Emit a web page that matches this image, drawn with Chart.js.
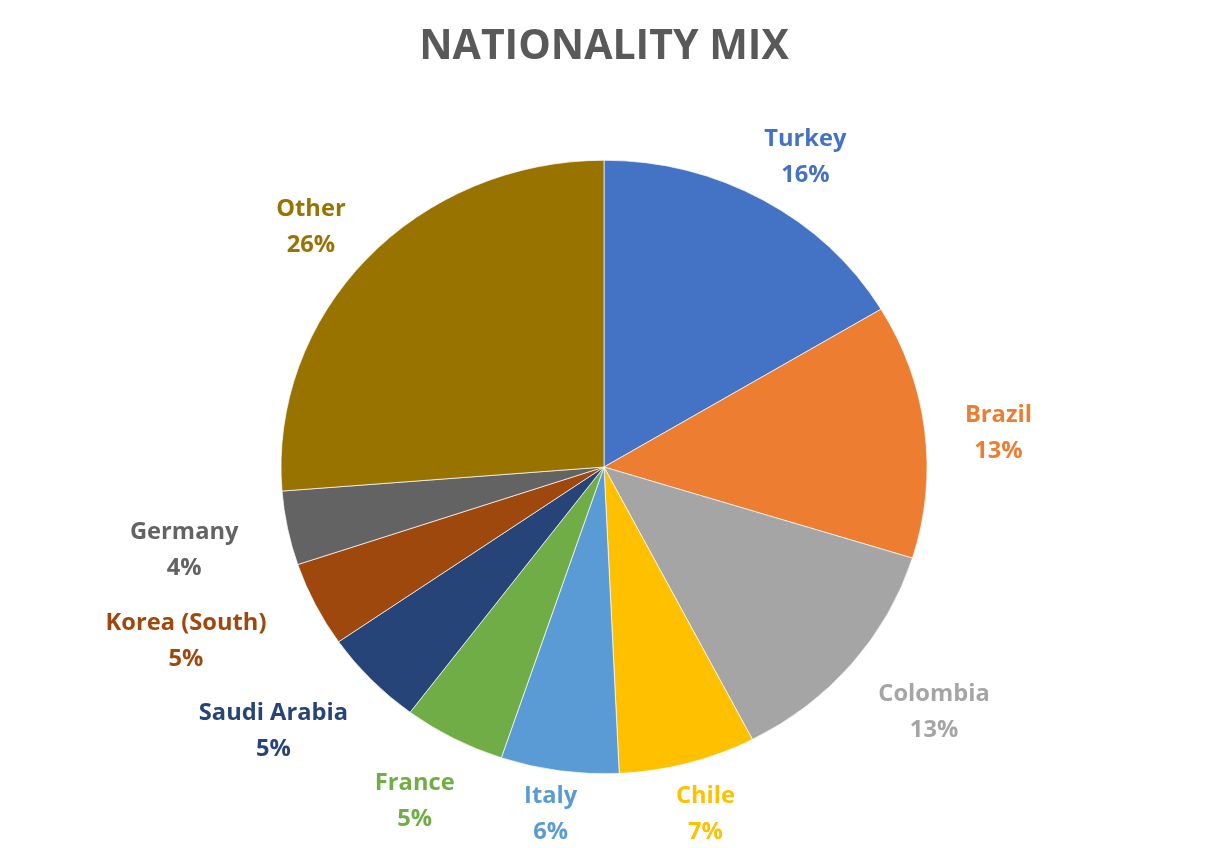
<!DOCTYPE html>
<html>
<head>
<meta charset="utf-8">
<title>Nationality Mix</title>
<script src="https://cdn.jsdelivr.net/npm/chart.js@4.4.1/dist/chart.umd.min.js"></script>
<style>
  html, body { margin: 0; padding: 0; background: #fff; }
  #wrap { width: 1208px; height: 848px; }
</style>
</head>
<body>
<div id="wrap"><canvas id="chartmix"></canvas></div>
<script>
// data
const countries = ["Turkey", "Brazil", "Colombia", "Chile", "Italy", "France", "Saudi Arabia", "Korea (South)", "Germany", "Other"];
const shares = [16.4, 13.4, 12.6, 6.85, 5.9, 5.1, 5.1, 4.5, 3.9, 26.25];
const colors = ["#4472C4", "#ED7D31", "#A5A5A5", "#FFC000", "#5B9BD5", "#70AD47", "#264478", "#9E480E", "#636363", "#997300"];

const LABEL_FONT = "bold 22.5px 'Open Sans', 'Liberation Sans', sans-serif";
const LINE_H = 36;
// the original picture was stretched a bit sideways, so the pie is an ellipse
const SX = 1.053;
const SY = 1 / SX;

// squash the pie vertically, then draw "Name / NN%" outside each slice
const piePlugin = {
    id: "piePlugin",
    beforeDatasetsDraw(chart) {
        let arc = chart.getDatasetMeta(0).data[0];
        let ctx = chart.ctx;
        ctx.save();
        ctx.translate(arc.x, arc.y);
        ctx.scale(1, SY);
        ctx.translate(-arc.x, -arc.y);
    },
    afterDatasetsDraw(chart) {
        let ctx = chart.ctx;
        ctx.restore();
        let meta = chart.getDatasetMeta(0);
        let total = shares.reduce((a, b) => a + b, 0);
        ctx.save();
        ctx.font = LABEL_FONT;
        ctx.textAlign = "center";
        ctx.textBaseline = "middle";
        meta.data.forEach((arc, i) => {
            let p = arc.getProps(["x", "y", "startAngle", "endAngle", "outerRadius"], true);
            let mid = (p.startAngle + p.endAngle) / 2;
            let dx = Math.cos(mid), dy = Math.sin(mid);
            let line1 = countries[i];
            let line2 = Math.round(shares[i] / total * 100) + "%";
            let w = Math.max(ctx.measureText(line1).width, ctx.measureText(line2).width) * SX;
            let h = LINE_H * 2;
            let gap = 24;
            let cx = p.x + dx * (p.outerRadius + gap + w * 0.75);
            let cy = p.y + dy * (p.outerRadius * SY + gap + h / 2) + 10;
            cy = Math.min(cy, chart.height - 33);
            ctx.fillStyle = colors[i];
            ctx.save();
            ctx.translate(cx, cy);
            ctx.scale(SX, 1);
            ctx.fillText(line1, 0, -LINE_H / 2);
            ctx.fillText(line2, 0, LINE_H / 2);
            ctx.restore();
        });
        ctx.restore();
    }
};

function main() {
    let c = document.getElementById("chartmix").getContext("2d");
    new Chart(c, {
        type: "pie",
        data: {
            labels: countries,
            datasets: [{
                data: shares,
                backgroundColor: colors,
                borderColor: "rgba(255,255,255,0.7)",
                borderWidth: 1
            }]
        },
        options: {
            responsive: true,
            maintainAspectRatio: false,
            animation: false,
            layout: { padding: { top: 0, bottom: 57.5, left: 0, right: 0 } },
            plugins: {
                title: {
                    display: true,
                    text: "NATIONALITY MIX",
                    color: "#595959",
                    font: { family: "'Open Sans', 'Liberation Sans', sans-serif", size: 41, weight: "bold" },
                    padding: { top: 23, bottom: 71.3 }
                },
                legend: { display: false },
                tooltip: { enabled: false }
            }
        },
        plugins: [piePlugin]
    });
}
document.addEventListener("DOMContentLoaded", main);
</script>
</body>
</html>
